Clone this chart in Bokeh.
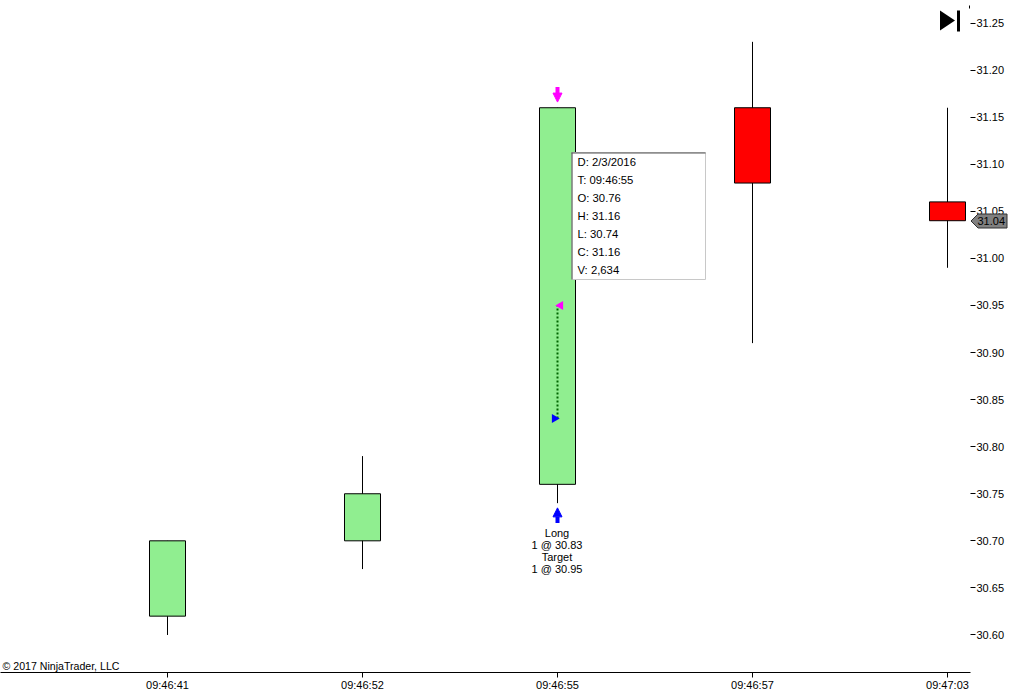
from bokeh.plotting import figure
from bokeh.embed import file_html
from bokeh.resources import INLINE
from bokeh.models import FixedTicker, Label, BoxAnnotation, PolyAnnotation, Arrow, NormalHead, ColumnDataSource
from bokeh.core.properties import value

times = ["09:46:41", "09:46:52", "09:46:55", "09:46:57", "09:47:03"]
opens = [30.62, 30.70, 30.76, 31.16, 31.06]
highs = [30.70, 30.79, 31.16, 31.23, 31.16]
lows = [30.60, 30.67, 30.74, 30.91, 30.99]
closes = [30.70, 30.75, 31.16, 31.08, 31.04]
price_ticks = [30.60, 30.65, 30.70, 30.75, 30.80, 30.85, 30.90, 30.95, 31.00, 31.05, 31.10, 31.15, 31.20, 31.25]
tooltip_rows = ["D: 2/3/2016", "T: 09:46:55", "O: 30.76", "H: 31.16", "L: 30.74", "C: 31.16", "V: 2,634"]
trade_rows = ["Long", "1 @ 30.83", "Target", "1 @ 30.95"]
trade_x = [2, 2]
trade_y = [30.83, 30.95]
buy_arrow = [30.719, 30.735]
sell_arrow = [31.182, 31.166]
last_price = "31.04"

UP = "#90EE90"
DOWN = "#FF0000"
FONT = "Liberation Sans"

W, H = 1016, 699
FR, FB = 970, 672
PXX = 195.0
PXY = 941.5
x0 = -167.0 / PXX
y_top = 31.25 + 22.5 / PXY

p = figure(width=W, height=H, output_backend="svg", toolbar_location=None,
           x_range=(x0, x0 + FR / PXX), y_range=(y_top - FB / PXY, y_top),
           y_axis_location="right", min_border_left=0, min_border_top=0,
           min_border_right=W - FR, min_border_bottom=H - FB,
           background_fill_color="white", outline_line_color=None)
p.styles = {"position": "absolute", "left": "0", "top": "0"}
p.grid.visible = False

ax = p.yaxis[0]
ax.ticker = FixedTicker(ticks=price_ticks)
ax.formatter.use_scientific = False
ax.major_label_overrides = {t: f"{t:.2f}" for t in price_ticks}
ax.axis_line_color = None
ax.major_tick_in = 0
ax.major_tick_out = 5
ax.minor_tick_line_color = None
ax.major_label_standoff = 1
ax.major_label_text_font = FONT
ax.major_label_text_font_size = "11px"
ax.major_label_text_color = "black"

bx = p.xaxis[0]
bx.ticker = FixedTicker(ticks=list(range(len(times))))
bx.major_label_overrides = {i: t for i, t in enumerate(times)}
bx.axis_line_color = "black"
bx.major_tick_in = 0
bx.major_tick_out = 5
bx.minor_tick_line_color = None
bx.major_label_standoff = 1
bx.major_label_text_font = FONT
bx.major_label_text_font_size = "11px"
bx.major_label_text_color = "black"

xs = list(range(len(times)))
src = ColumnDataSource(dict(
    x=xs, high=highs, low=lows,
    top=[max(o, c) for o, c in zip(opens, closes)],
    bottom=[min(o, c) for o, c in zip(opens, closes)],
    color=[UP if c >= o else DOWN for o, c in zip(opens, closes)],
))
p.segment("x", "high", "x", "low", source=src, line_color="black", line_width=1)
p.vbar(x="x", top="top", bottom="bottom", width=36 / PXX, source=src,
       fill_color="color", line_color="black", line_width=1)

# Trade line and entry / exit markers (triangles sit either side of the line)
p.line(trade_x, trade_y, line_color="#006400", line_width=2, line_dash="2 2")
p.scatter([trade_x[0] - 3 / PXX], [trade_y[0]], marker="triangle", size=9, angle=-1.5708,
          fill_color="#0000FF", line_color=None)
p.scatter([trade_x[1] + 3 / PXX], [trade_y[1]], marker="triangle", size=9, angle=1.5708,
          fill_color="#FF00FF", line_color=None)

p.add_layout(Arrow(x_start=2, y_start=buy_arrow[0], x_end=2, y_end=buy_arrow[1],
                   line_color="#0000FF", line_width=4,
                   end=NormalHead(size=9, fill_color="#0000FF", line_color="#0000FF")))
p.add_layout(Arrow(x_start=2, y_start=sell_arrow[0], x_end=2, y_end=sell_arrow[1],
                   line_color="#FF00FF", line_width=4,
                   end=NormalHead(size=9, fill_color="#FF00FF", line_color="#FF00FF")))


def label(text, x, y, size="11px", align="left", baseline="middle", color="black", **kw):
    p.add_layout(Label(x=x, y=y, x_units="canvas", y_units="canvas", text=text,
                       text_font=FONT, text_font_size=size, text_align=align,
                       text_baseline=baseline, text_color=color, **kw))


def box(l, r, t, b, fill, line=None):
    p.add_layout(BoxAnnotation(left=l, right=r, top=t, bottom=b,
                               left_units="canvas", right_units="canvas",
                               top_units="canvas", bottom_units="canvas",
                               fill_color=fill, fill_alpha=1, line_color=line,
                               line_alpha=1 if line else 0))


# Trade text
for i, t in enumerate(trade_rows):
    label(t, 556.5, 532.5 + 12 * i, align="center")

# Data box
box(571.5, 705, 152, 279, "white", "#C8C8C8")
box(571, 705, 152, 153, "#555555")
box(571, 572, 152, 279, "#555555")
for i, t in enumerate(tooltip_rows):
    label(t, 577, 161.5 + 18 * i, size="11.3px")

# Skip-to-end icon
p.add_layout(PolyAnnotation(xs=[939.5, 954.5, 939.5], ys=[10, 20, 30],
                            xs_units="canvas", ys_units="canvas",
                            fill_color="black", fill_alpha=1, line_color=None))
box(956.5, 959.5, 10, 31, "black")
# Scale stub
box(968.5, 969.5, 5, 8, "black")

label("\u00a9 2017 NinjaTrader, LLC", 2, 665.5, size="10.6px")

# Last price flag: a small overlaid figure, since the main frame clips what lies outside it
flag = figure(width=39, height=17, output_backend="svg", toolbar_location=None,
              x_range=(0, 39), y_range=(17, 0), x_axis_location=None, y_axis_location=None,
              min_border=0, outline_line_color=None, background_fill_alpha=0, border_fill_alpha=0)
flag.styles = {"position": "absolute", "left": "969px", "top": "212px"}
flag.grid.visible = False
flag.patch([1.5, 8.5, 37.5, 37.5, 8.5], [8.5, 1.5, 1.5, 15.5, 15.5],
           fill_color="#808080", line_color="#303030", line_width=1)
flag.text([8], [8.5], text=[last_price], text_font=value(FONT), text_font_size="11px",
          text_baseline="middle", text_color="black")

open("out.html", "w").write(file_html([p, flag], INLINE))
